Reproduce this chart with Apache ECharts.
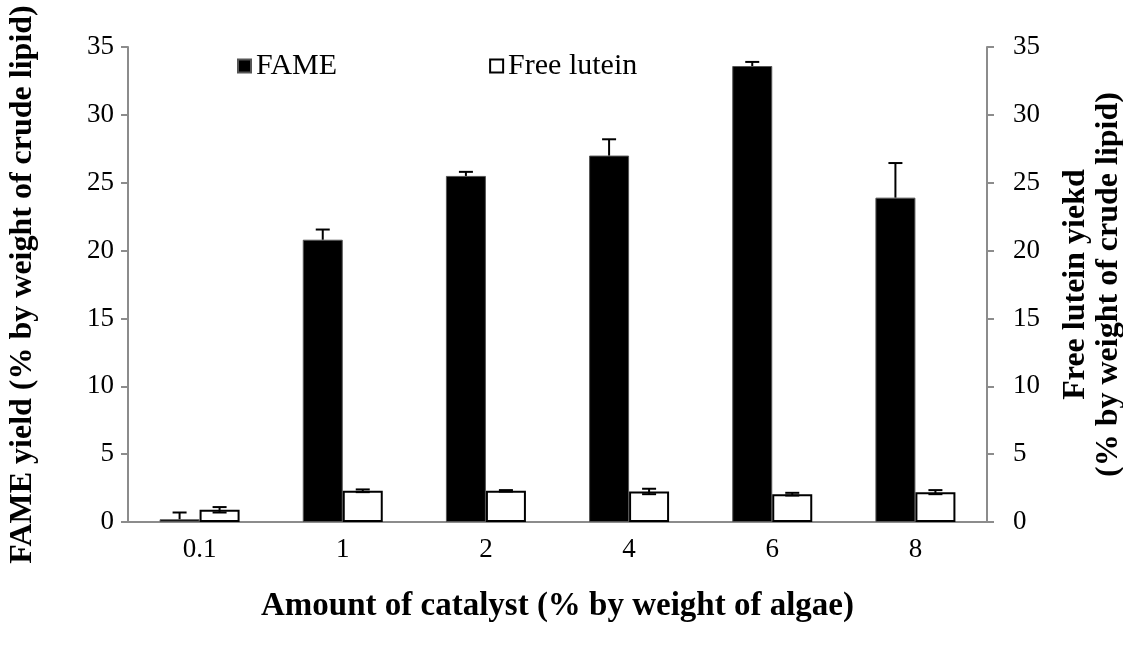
<!DOCTYPE html>
<html>
<head>
<meta charset="utf-8">
<script src="https://cdn.jsdelivr.net/npm/echarts@6/dist/echarts.min.js"></script>
<style>
  html, body { margin: 0; padding: 0; background: #fff; }
  #chart { width: 1123px; height: 646px; }
</style>
</head>
<body>
<div id="chart"></div>
<script>
// catalyst amounts (% by weight of algae)
const categories = ['0.1', '1', '2', '4', '6', '8']
// FAME yield and its error
const fameValues = [0.2, 20.8, 25.5, 27.0, 33.6, 23.9]
const fameErrors = [0.5, 0.75, 0.3, 1.2, 0.3, 2.55]
// free lutein yield and its error
const luteinValues = [0.9, 2.3, 2.3, 2.25, 2.05, 2.2]
const luteinErrors = [0.2, 0.1, 0.05, 0.2, 0.1, 0.15]
const yTicks = [0, 5, 10, 15, 20, 25, 30, 35]

const serif = 'Liberation Serif'
const barW = 40

// error bar drawer, side = -1 for left bar, +1 for right bar
function errorBar (side, upOnly) {
  return function (params, api) {
    const i = api.value(0)
    const v = api.value(1)
    const e = api.value(2)
    const top = api.coord([i, v + e])
    const bot = api.coord([i, upOnly ? v : v - e])
    const x = top[0] + side * barW / 2
    const style = { stroke: '#000', lineWidth: 2 }
    return {
      type: 'group',
      children: [
        { type: 'line', shape: { x1: x, y1: top[1], x2: x, y2: bot[1] }, style },
        { type: 'line', shape: { x1: x - 7, y1: top[1], x2: x + 7, y2: top[1] }, style },
        { type: 'line', shape: { x1: x - 7, y1: bot[1], x2: x + 7, y2: bot[1] }, style, invisible: upOnly }
      ]
    }
  }
}

const chart = echarts.init(document.getElementById('chart'))
const axisGray = '#8c8c8c'
const yAxisBase = {
  type: 'value',
  min: yTicks[0],
  max: yTicks[yTicks.length - 1],
  interval: 5,
  splitLine: { show: false },
  axisLine: { show: true, lineStyle: { color: axisGray, width: 2 } },
  axisTick: { show: true, inside: false, length: 7, lineStyle: { color: axisGray, width: 2 } },
  nameLocation: 'middle',
  nameRotate: 90,
  nameTextStyle: { fontFamily: serif, fontWeight: 'bold', fontSize: 32, color: '#000', lineHeight: 33 }
}

chart.setOption({
  backgroundColor: '#fff',
  animation: false,
  grid: { left: 128, right: 136, top: 47, bottom: 124, containLabel: false, outerBoundsMode: 'none' },
  legend: {
    data: ['FAME', 'Free lutein'],
    top: 46,
    left: 232,
    itemGap: 152,
    itemWidth: 13,
    itemHeight: 13,
    icon: 'rect',
    textStyle: { fontFamily: serif, fontSize: 30, color: '#000' }
  },
  xAxis: {
    type: 'category',
    data: categories,
    axisLine: { lineStyle: { color: axisGray, width: 2 } },
    axisTick: { show: false },
    axisLabel: { fontFamily: serif, fontSize: 27, color: '#000', margin: 14 },
    name: 'Amount of catalyst (% by weight of algae)',
    nameLocation: 'middle',
    nameGap: 68,
    nameTextStyle: { fontFamily: serif, fontWeight: 'bold', fontSize: 33, color: '#000' }
  },
  yAxis: [
    Object.assign({}, yAxisBase, {
      position: 'left',
      name: 'FAME yield (% by weight of crude lipid)',
      nameGap: 89,
      axisLabel: { fontFamily: serif, fontSize: 27, color: '#000', margin: 14 }
    }),
    Object.assign({}, yAxisBase, {
      position: 'right',
      name: 'Free lutein yiekd\n(% by weight of crude lipid)',
      nameGap: 72,
      axisLabel: { fontFamily: serif, fontSize: 27, color: '#000', margin: 26 }
    })
  ],
  series: [
    {
      name: 'FAME',
      type: 'bar',
      barWidth: barW,
      barGap: '0%',
      itemStyle: { color: '#000', borderColor: '#555', borderWidth: 1 },
      data: fameValues
    },
    {
      name: 'Free lutein',
      type: 'bar',
      barWidth: barW,
      barGap: '0%',
      itemStyle: { color: '#fff', borderColor: '#000', borderWidth: 2 },
      data: luteinValues
    },
    {
      type: 'custom',
      renderItem: errorBar(-1, true),
      encode: { x: 0, y: 1 },
      z: 5,
      data: fameValues.map((v, i) => [i, v, fameErrors[i]])
    },
    {
      type: 'custom',
      renderItem: errorBar(1, false),
      encode: { x: 0, y: 1 },
      z: 5,
      data: luteinValues.map((v, i) => [i, v, luteinErrors[i]])
    }
  ]
})
</script>
</body>
</html>
